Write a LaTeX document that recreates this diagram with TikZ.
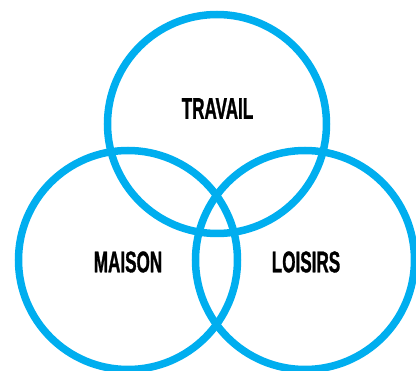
\documentclass[tikz,border=0pt]{standalone}
\usepackage{fontspec}
\setmainfont{Liberation Sans}
\newfontfamily\condfont{Liberation Sans Bold}[FakeStretch=0.57,FakeBold=0.9]
\definecolor{venncyan}{HTML}{00AEEF}
\begin{document}
\begin{tikzpicture}[x=1pt,y=-1pt,
  ring/.style={draw=venncyan,line width=7.5pt},
  lbl/.style={font=\condfont\fontsize{30}{32}\selectfont,text=black,inner sep=0pt}]
\useasboundingbox (0,0) rectangle (416,371);
\begin{scope}
\clip (0,0) rectangle (416,371);
\draw[ring] (217,124) circle (109.5);
\draw[ring] (128,260) circle (109.5);
\draw[ring] (305,260) circle (109.5);
\end{scope}
\node[lbl] (travail) at (217.5,108.5) {TRAVAIL};
\node[lbl] (maison) at (128,262) {MAISON};
\node[lbl] (loisirs) at (306,262) {LOISIRS};
\end{tikzpicture}
\end{document}
